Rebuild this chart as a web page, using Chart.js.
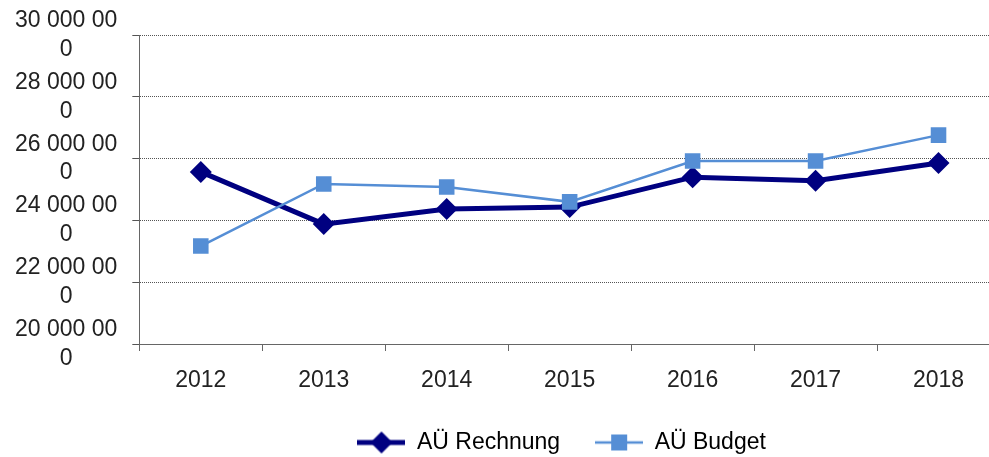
<!DOCTYPE html>
<html>
<head>
<meta charset="utf-8">
<script src="https://cdn.jsdelivr.net/npm/chart.js@4"></script>
<style>
  html, body { margin: 0; padding: 0; background: #fff; overflow: hidden; }
  /* the original plot runs past the right edge of the picture, so the canvas is a bit wider and cropped */
  #wrap { width: 989px; height: 457px; overflow: hidden; }
</style>
</head>
<body>
<div id="wrap"><canvas id="chart" width="1000" height="457"></canvas></div>
<script>
// data
const years = ['2012', '2013', '2014', '2015', '2016', '2017', '2018'];
const rechnung = [25570000, 23880000, 24370000, 24430000, 25400000, 25280000, 25860000];
const budget = [23170000, 25180000, 25080000, 24600000, 25920000, 25920000, 26760000];
const yTicks = [20000000, 22000000, 24000000, 26000000, 28000000, 30000000];

const NAVY = '#000080';
const LIGHT = '#558ed5';
const FONT = "'Liberation Sans', Arial, sans-serif";

// legend sample: a short line with the marker in the middle
function legendIcon(color, lineWidth, style) {
    const c = document.createElement('canvas');
    c.width = 48;
    c.height = 24;
    const ctx = c.getContext('2d');
    ctx.strokeStyle = color;
    ctx.fillStyle = color;
    ctx.lineWidth = lineWidth;
    ctx.beginPath();
    ctx.moveTo(0, 12);
    ctx.lineTo(48, 12);
    ctx.stroke();
    ctx.beginPath();
    if (style === 'diamond') {
        ctx.moveTo(24, 1);
        ctx.lineTo(35, 12);
        ctx.lineTo(24, 23);
        ctx.lineTo(13, 12);
        ctx.closePath();
    } else {
        ctx.rect(16, 4, 16, 16);
    }
    ctx.fill();
    return c;
}

function fmt(v) {
    const s = String(v).replace(/\B(?=(\d{3})+(?!\d))/g, ' ');
    // the original wraps the last digit onto a second line
    return [s.slice(0, -1), s.slice(-1)];
}

new Chart(document.getElementById('chart'), {
    type: 'line',
    data: {
        labels: years,
        datasets: [
            {
                label: 'AÜ Rechnung',
                data: rechnung,
                borderColor: NAVY,
                backgroundColor: NAVY,
                borderWidth: 5,
                pointStyle: 'rectRot',
                pointRadius: 11,
                pointBorderWidth: 0,
                tension: 0,
                order: 1,
            },
            {
                label: 'AÜ Budget',
                data: budget,
                borderColor: LIGHT,
                backgroundColor: LIGHT,
                borderWidth: 2.5,
                pointStyle: 'rect',
                pointRadius: 11,
                pointBorderWidth: 0,
                tension: 0,
                order: 0,
            },
        ],
    },
    options: {
        responsive: false,
        animation: false,
        layout: { autoPadding: false, padding: { left: 0, right: 0, top: 35, bottom: 0 } },
        plugins: {
            tooltip: { enabled: false },
            legend: {
                position: 'bottom',
                fullSize: false,
                labels: {
                    usePointStyle: true,
                    pointStyleWidth: 48,
                    boxHeight: 22,
                    padding: 35,
                    color: '#222',
                    font: { family: FONT, size: 23 },
                    generateLabels: () => [
                        { text: 'AÜ Rechnung', pointStyle: legendIcon(NAVY, 5, 'diamond'), fillStyle: NAVY, strokeStyle: NAVY, lineWidth: 0, datasetIndex: 0 },
                        { text: 'AÜ Budget', pointStyle: legendIcon(LIGHT, 2.5, 'square'), fillStyle: LIGHT, strokeStyle: LIGHT, lineWidth: 0, datasetIndex: 1 },
                    ],
                },
            },
        },
        scales: {
            x: {
                offset: true,
                grid: { offset: true, drawOnChartArea: false, drawTicks: true, tickLength: 7, color: '#666' },
                border: { color: '#666', width: 1 },
                ticks: { color: '#222', font: { family: FONT, size: 23, lineHeight: 0.8 }, padding: 20 },
                afterFit: (scale) => { scale.paddingLeft = 0; scale.paddingRight = 0; scale.height = 45; },
            },
            y: {
                min: 20000000,
                max: 30000000,
                afterBuildTicks: (axis) => { axis.ticks = yTicks.map(v => ({ value: v })); },
                afterFit: (scale) => { scale.paddingTop = 0; scale.paddingBottom = 0; },
                grid: { color: '#555', lineWidth: 1, tickLength: 7 },
                border: { color: '#666', width: 1, dash: [1, 1] },
                ticks: {
                    autoSkip: false,
                    color: '#222',
                    font: { family: FONT, size: 23, lineHeight: 1.25 },
                    crossAlign: 'center',
                    padding: 15,
                    callback: (v) => fmt(v),
                },
            },
        },
    },
    plugins: [{
        // move the legend row a little lower and to the left, as in the original
        id: 'legendShift',
        afterLayout(chart) {
            chart.legend.top += 7;
            chart.legend.bottom += 7;
            chart.legend.left -= 8;
            chart.legend.right -= 8;
        },
    }],
});
</script>
</body>
</html>
